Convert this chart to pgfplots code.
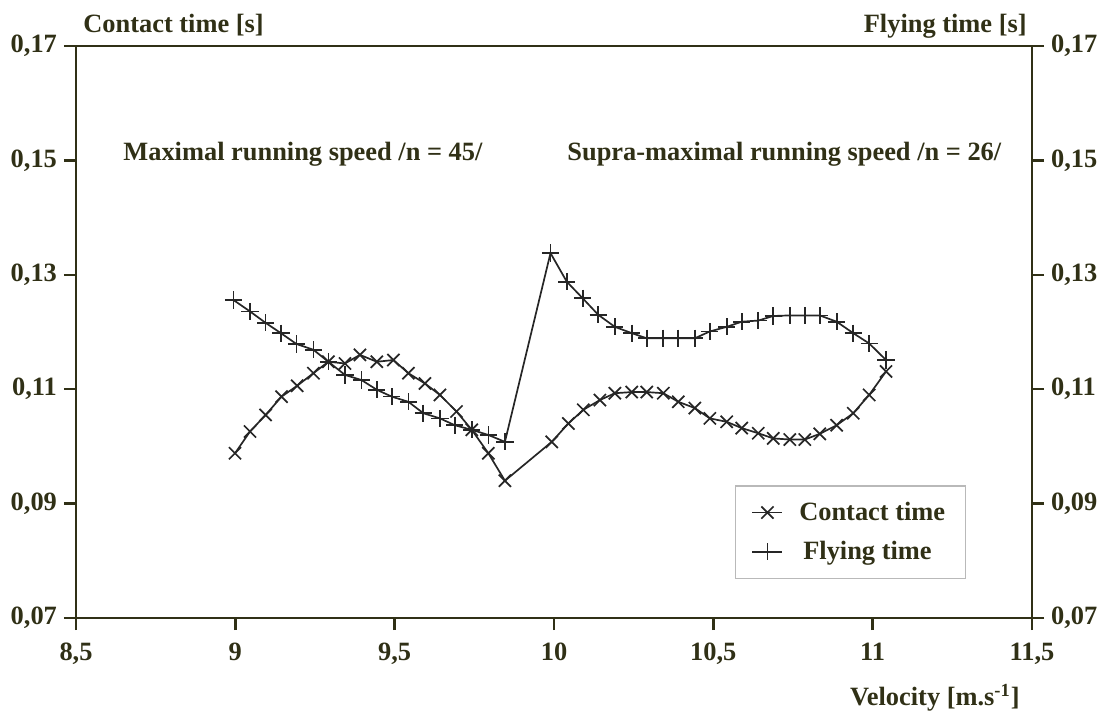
\documentclass[border=0pt]{standalone}
\usepackage{fontspec}
\setmainfont{Liberation Serif}
\usepackage{pgfplots}
\pgfplotsset{compat=1.18}
\definecolor{ink}{RGB}{48,48,22}
\definecolor{curve}{RGB}{38,38,38}
\newcommand{\lbl}{\bfseries\fontsize{13.2}{15}\selectfont}

\pgfplotstableread{
x y
8.999 0.0988
9.046 0.1026
9.095 0.1055
9.145 0.1087
9.194 0.1106
9.245 0.1128
9.292 0.1148
9.344 0.1145
9.391 0.1160
9.444 0.1148
9.496 0.1151
9.543 0.1128
9.595 0.1110
9.642 0.1090
9.694 0.1061
9.742 0.1029
9.794 0.0988
9.846 0.0940
9.993 0.1008
10.045 0.1040
10.092 0.1064
10.144 0.1081
10.191 0.1093
10.244 0.1095
10.291 0.1095
10.343 0.1093
10.390 0.1078
10.442 0.1067
10.489 0.1049
10.542 0.1043
10.589 0.1032
10.641 0.1023
10.688 0.1014
10.740 0.1012
10.787 0.1012
10.834 0.1022
10.887 0.1037
10.939 0.1058
10.989 0.1090
11.042 0.1131
}\contact

\pgfplotstableread{
x y
8.994 0.1256
9.046 0.1236
9.095 0.1216
9.143 0.1198
9.192 0.1179
9.245 0.1169
9.292 0.1148
9.344 0.1125
9.396 0.1116
9.444 0.1099
9.491 0.1087
9.543 0.1078
9.590 0.1058
9.642 0.1049
9.689 0.1037
9.742 0.1029
9.794 0.1020
9.846 0.1008
9.989 0.1338
10.040 0.1288
10.090 0.1259
10.139 0.1230
10.191 0.1209
10.244 0.1198
10.291 0.1189
10.343 0.1189
10.390 0.1189
10.442 0.1189
10.489 0.1201
10.542 0.1209
10.589 0.1218
10.641 0.1220
10.688 0.1228
10.740 0.1229
10.787 0.1229
10.834 0.1229
10.887 0.1218
10.939 0.1198
10.989 0.1180
11.042 0.1151
}\flying

\begin{document}
\begin{tikzpicture}
\begin{axis}[
  scale only axis, width=478pt, height=286pt,
  xmin=8.5, xmax=11.5, ymin=0.07, ymax=0.17,
  axis line style={ink, line width=1.2pt},
  tick style={ink, line width=1.2pt},
  tick align=outside, major tick length=6pt,
  xtick={8.5,9,9.5,10,10.5,11,11.5},
  xticklabels={{8,5},{9},{9,5},{10},{10,5},{11},{11,5}},
  ytick={0.07,0.09,0.11,0.13,0.15,0.17},
  yticklabels={{0,07},{0,09},{0,11},{0,13},{0,15},{0,17}},
  xtick pos=bottom, ytick pos=left,
  tick label style={font=\lbl, text=ink},
  xticklabel style={yshift=-3pt},
  legend image code/.code={\draw[mark repeat=2,mark phase=2,#1] plot coordinates {(0pt,0pt) (7.5pt,0pt) (15pt,0pt)};},
  legend style={at={(axis cs:10.568,0.0932)}, anchor=north west,
    draw=gray!55, line width=0.6pt, font=\lbl, text=ink,
    inner xsep=8pt, inner ysep=6pt, row sep=5pt},
  legend cell align=left,
]
\addplot[curve, line width=0.85pt, mark=x, mark size=4.3pt, mark options={line width=0.85pt}] table[x=x,y=y] {\contact};
\addlegendentry{\hspace{6pt}Contact time}
\addplot[curve, line width=0.85pt, mark=+, mark size=4.3pt, mark options={line width=0.85pt}] table[x=x,y=y] {\flying};
\addlegendentry{\hspace{8pt}Flying time}
\end{axis}
\begin{axis}[
  scale only axis, width=478pt, height=286pt,
  xmin=8.5, xmax=11.5, ymin=0.07, ymax=0.17,
  hide x axis, axis y line*=right,
  axis line style={ink, line width=1.2pt},
  tick style={ink, line width=1.2pt},
  tick align=outside, major tick length=6pt,
  ytick={0.07,0.09,0.11,0.13,0.15,0.17},
  yticklabels={{0,07},{0,09},{0,11},{0,13},{0,15},{0,17}},
  tick label style={font=\lbl, text=ink},
]
\end{axis}
\begin{scope}[every node/.style={inner sep=0pt, text=ink, font=\lbl}]
\node[anchor=base west] at (3.5pt,293pt) {Contact time [s]};
\node[anchor=base east] at (475.5pt,293pt) {Flying time [s]};
\node[anchor=base east] at (472pt,-43.5pt) {Velocity [m.s\textsuperscript{-1}]};
\node[anchor=base west] at (23.5pt,229pt) {Maximal running speed /n = 45/};
\node[anchor=base west] at (245.5pt,229pt) {Supra-maximal running speed /n = 26/};
\end{scope}
\pgfresetboundingbox
\useasboundingbox (-38pt,-48pt) rectangle (513pt,309pt);
\end{tikzpicture}
\end{document}
